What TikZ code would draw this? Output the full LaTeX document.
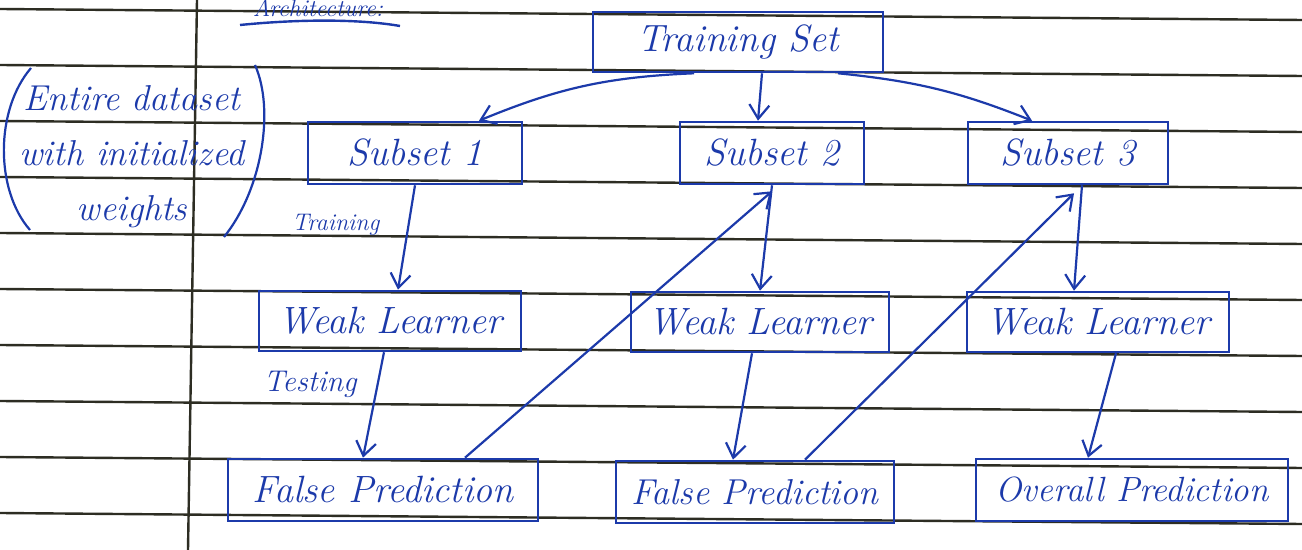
\documentclass[tikz,border=0pt]{standalone}
\usetikzlibrary{arrows.meta}
\definecolor{ink}{RGB}{28,58,170}
\definecolor{ruling}{RGB}{45,45,35}
\begin{document}
\begin{tikzpicture}[x=0.5pt,y=-0.5pt,
  box/.style={draw=ink, line width=1.3pt, text=ink, inner sep=0pt,
    font=\fontsize{19}{22}\selectfont\itshape},
  link/.style={draw=ink, line width=1.1pt, -{Straight Barb[length=7pt,width=10pt]}},
  inklabel/.style={text=ink, inner sep=0pt},
  ruleline/.style={draw=ruling, line width=1.2pt}]
\useasboundingbox (0,0) rectangle (1302,550);
\clip (0,0) rectangle (1302,550);
\fill[white] (0,0) rectangle (1302,550);

% ruled paper
\foreach \i in {0,...,9}
  \draw[ruleline] (0,{9+56*\i}) -- (1302,{20+56*\i});
\draw[ruleline] (197,0) -- (188,550);

% heading
\node[inklabel, anchor=base, font=\fontsize{12}{14}\selectfont\itshape] (head) at (318,17) {Architecture:};
\draw[ink, line width=1.2pt] (240,25) .. controls (300,19) and (360,19) .. (400,26);

% side note in brackets
\node[inklabel, align=center, font=\fontsize{18}{27.5}\selectfont\itshape] (note) at (132,157)
  {Entire dataset\\with initialized\\weights};
\draw[ink, line width=1.1pt] (31,68) .. controls (-5,110) and (-5,190) .. (30,230);
\draw[ink, line width=1.1pt] (255,65) .. controls (275,110) and (262,190) .. (224,237);

% boxes
\node[box, minimum width=145pt, minimum height=30pt] (ts) at (738,42) {Training Set};
\node[box, minimum width=107pt, minimum height=31pt] (s1) at (415,153) {Subset 1};
\node[box, minimum width=92pt,  minimum height=31pt] (s2) at (772,153) {Subset 2};
\node[box, minimum width=100pt, minimum height=31pt] (s3) at (1068,153) {Subset 3};
\node[box, minimum width=131pt, minimum height=30pt] (wl1) at (390,321) {Weak Learner};
\node[box, minimum width=129pt, minimum height=30pt] (wl2) at (760,322) {Weak Learner};
\node[box, minimum width=131pt, minimum height=30pt] (wl3) at (1098,322) {Weak Learner};
\node[box, minimum width=155pt, minimum height=31pt] (fp1) at (383,490) {False Prediction};
\node[box, minimum width=139pt, minimum height=31pt, font=\fontsize{18}{22}\selectfont\itshape] (fp2) at (755,492) {False Prediction};
\node[box, minimum width=156pt, minimum height=31pt, font=\fontsize{17.5}{22}\selectfont\itshape] (op) at (1132,490) {Overall Prediction};

% training set split into subsets
\draw[link] ([xshift=-22pt]ts.south) to[bend right=10] ([xshift=32pt]s1.north);
\draw[link] ([xshift=12pt]ts.south) -- ([xshift=-7pt]s2.north);
\draw[link] ([xshift=50pt]ts.south) to[bend left=8] ([xshift=-18pt]s3.north);

% training and testing chain
\draw[link] (s1.south) -- ([xshift=4pt]wl1.north) node[inklabel, pos=0.38, left=14pt, font=\fontsize{12}{14}\selectfont\itshape] (trn) {Training};
\draw[link] ([xshift=-3pt]wl1.south) -- ([xshift=-10pt]fp1.north) node[inklabel, pos=0.3, left=10pt, font=\fontsize{15}{17}\selectfont\itshape] (tst) {Testing};
\draw[link] (s2.south) -- (wl2.north);
\draw[link] ([xshift=-4pt]wl2.south) -- ([xshift=-11pt]fp2.north);
\draw[link] ([xshift=7pt]s3.south) -- ([xshift=-12pt]wl3.north);
\draw[link] ([xshift=9pt]wl3.south) -- ([xshift=-22pt]op.north);

% misclassified samples fed to the next subset
\draw[link] ([xshift=41pt]fp1.north) -- ([yshift=-3pt]s2.south);
\draw[link] ([xshift=25pt]fp2.north) -- ([xshift=3pt,yshift=-4pt]s3.south);
\end{tikzpicture}
\end{document}
